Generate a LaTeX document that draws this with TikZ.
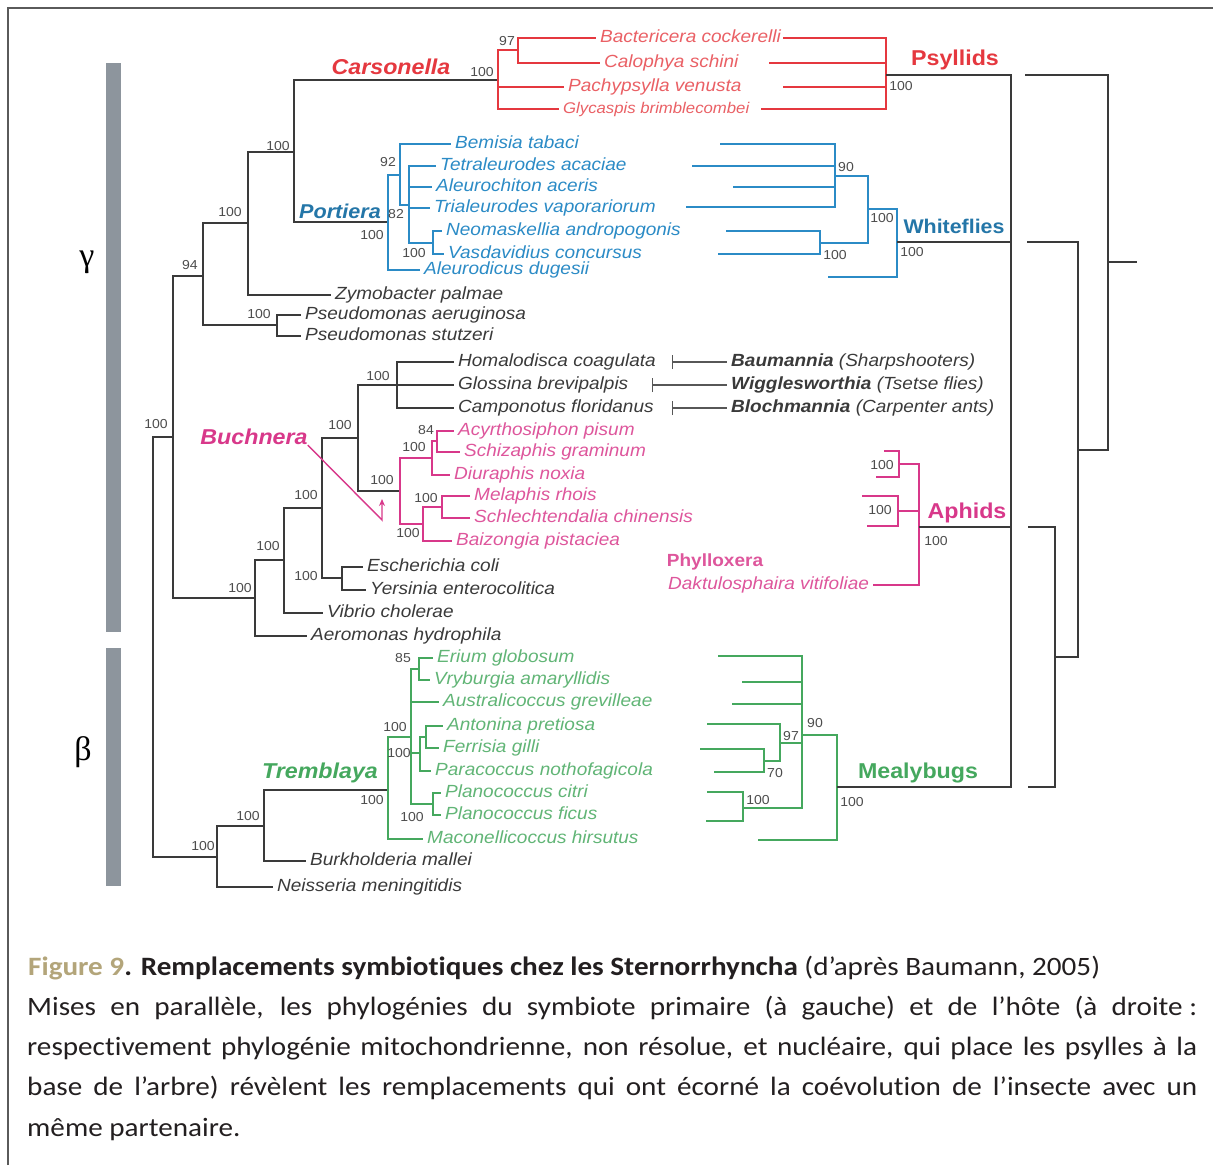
\documentclass[tikz,border=0pt]{standalone}
\usepackage{fontspec}
\newfontfamily\taxfont{Liberation Sans}[FakeStretch=1.08]
\newfontfamily\capfont{Carlito}[FakeStretch=1.1, Ligatures=NoCommon]
\newfontfamily\greekfont{Liberation Serif}
\usepackage{xcolor}
\usepackage{tikz}
\usetikzlibrary{arrows.meta, positioning}
\definecolor{TreeInk}{HTML}{3A3A3A}
\definecolor{BootInk}{HTML}{4D4D4D}
\definecolor{PsyRed}{HTML}{E5383F}
\definecolor{FlyBlue}{HTML}{2B8BC6}
\definecolor{AphPink}{HTML}{D8388A}
\definecolor{MeaGreen}{HTML}{45A85E}
\definecolor{BarGray}{HTML}{8D959D}
\definecolor{FigTan}{HTML}{B3A57A}
\definecolor{CapInk}{HTML}{231F20}
\definecolor{FrameGray}{HTML}{5A5A5A}

\begin{document}
\begin{tikzpicture}[x=1pt, y=-1pt,
  branch/.style={line width=1.8pt, draw=TreeInk},
  psybr/.style={branch, draw=PsyRed},
  flybr/.style={branch, draw=FlyBlue},
  aphbr/.style={branch, draw=AphPink},
  meabr/.style={branch, draw=MeaGreen},
  taxon/.style={anchor=west, inner xsep=4pt, inner ysep=0pt, text height=9pt, text depth=0pt, font=\taxfont\itshape\fontsize{17.6}{20}\selectfont},
  boot/.style={inner sep=0pt, font=\taxfont\fontsize{13}{14}\selectfont, text=BootInk},
  clade/.style={inner sep=0pt, font=\taxfont\bfseries\itshape\fontsize{21.5}{24}\selectfont},
  hostlbl/.style={inner sep=0pt, font=\taxfont\bfseries\fontsize{21.5}{24}\selectfont},
  capline/.style={anchor=base west, inner sep=0pt, font=\capfont\fontsize{26.5}{30}\selectfont, text=CapInk}
]
\fill[white] (0,0) rectangle (1213,1165);
\useasboundingbox (0,0) rectangle (1213,1165);

% Frame
\draw[FrameGray, line width=1.5pt] (8,1165) -- (8,8) -- (1213,8);

% Proteobacteria bars
\fill[BarGray] (106,63) rectangle (121,632);
\fill[BarGray] (106,648) rectangle (121,886);
\node (gam) at (87,262) {\greekfont\fontsize{34}{34}\selectfont γ};
\node (bet) at (83,752) {\greekfont\fontsize{34}{34}\selectfont β};

% Symbiont tree: inner nodes
\foreach \n/\x/\y in {
  r0/153/647, g1/173/437, g2/203/276, g3/248/223, g4/294/152,
  cars/498/80, c97/518/50, port/388/222, w92/400/175, w82/409/205, wNV/433/243,
  psN/277/325, ent1/255/598, ent2/284/560, ent3/322/508, ecy/342/578,
  ent4/358/438, ent5/397/385, buch/400/491, a1/432/458, a84/437/441,
  a2/423/524, mel/442/507, b1/217/857, b2/264/826, trem/388/790,
  m1/411/737, m85/419/669, m3/420/753, m4/426/737, mPl/433/804} {
  \coordinate (\n) at (\x,\y);
}

% Host trees: inner nodes and tips
\foreach \n/\x/\y in {
  hPsy/886/75, hBac/783/38, hCal/769/63, hPac/783/87, hGly/761/109,
  hW90/835/176, hBem/720/144, hTet/692/166, hAch/733/187, hTri/686/207,
  hWNV/820/243, hNeo/726/231, hVas/718/254, hW2/868/209, hAle/828/277, hW3/897/242,
  hA1/899/464, hA1a/884/451, hA1b/876/477, hA2/898/511, hA2a/862/496, hA2b/867/526, hAph/919/527,
  hM1/802/735, hEri/718/656, hVry/742/682, hAus/732/704, hM2/780/743, hAnt/707/724,
  hM3/764/761, hFer/700/749, hPar/714/772, hM4/743/808, hPlc/707/792, hPlf/706/821,
  hM0/837/787, hMac/758/840,
  mPsy/1011/75, mWhi/1011/242, mAph/1011/527, mMea/1011/787,
  nPsy/1025/75, nWhi/1027/242, nAph/1028/527, nMea/1028/787,
  nA/1055/657, nB/1078/450, nC/1108/262, nRoot/1137/262} {
  \coordinate (\n) at (\x,\y);
}

% Leaves
\foreach \n/\x/\y/\t in {
  zymo/331/295/Zymobacter palmae, psaer/301/315/Pseudomonas aeruginosa,
  psstu/301/336/Pseudomonas stutzeri, homa/454/362/Homalodisca coagulata,
  gloss/454/385/Glossina brevipalpis, campo/454/408/Camponotus floridanus,
  ecoli/363/567/Escherichia coli, yers/366/590/Yersinia enterocolitica,
  vibrio/323/613/Vibrio cholerae, aerom/307/636/Aeromonas hydrophila,
  burk/306/861/Burkholderia mallei, neiss/273/887/Neisseria meningitidis} {
  \node[taxon, text=TreeInk] (\n) at (\x,\y) {\t};
}
\foreach \n/\x/\y/\t in {
  bact/596/38/Bactericera cockerelli, calo/600/63/Calophya schini,
  pachy/564/87/Pachypsylla venusta} {
  \node[taxon, text=PsyRed!80] (\n) at (\x,\y) {\t};
}
\node[taxon, text=PsyRed!80, font=\taxfont\itshape\fontsize{15.5}{18}\selectfont] (glyc) at (559,109) {Glycaspis brimblecombei};
\foreach \n/\x/\y/\t in {
  bemisia/451/144/Bemisia tabaci, tetra/436/166/Tetraleurodes acaciae,
  aleuroch/432/187/Aleurochiton aceris, trial/430/208/Trialeurodes vaporariorum,
  neo/442/231/Neomaskellia andropogonis, vas/444/254/Vasdavidius concursus,
  aleurod/420/270/Aleurodicus dugesii} {
  \node[taxon, text=FlyBlue] (\n) at (\x,\y) {\t};
}
\foreach \n/\x/\y/\t in {
  acyr/454/431/Acyrthosiphon pisum, schiz/460/452/Schizaphis graminum,
  diur/450/475/Diuraphis noxia, melaph/470/496/Melaphis rhois,
  schl/470/518/Schlechtendalia chinensis, baiz/452/541/Baizongia pistaciea,
  dakt/664/585/Daktulosphaira vitifoliae} {
  \node[taxon, text=AphPink!85] (\n) at (\x,\y) {\t};
}
\foreach \n/\x/\y/\t in {
  erium/433/658/Erium globosum, vryb/430/680/Vryburgia amaryllidis,
  austr/439/702/Australicoccus grevilleae, anton/443/726/Antonina pretiosa,
  ferr/439/748/Ferrisia gilli, parac/431/771/Paracoccus nothofagicola,
  plc/441/793/Planococcus citri, plf/441/815/Planococcus ficus,
  macon/423/839/Maconellicoccus hirsutus} {
  \node[taxon, text=MeaGreen!85] (\n) at (\x,\y) {\t};
}

% Symbiont branches
\foreach \a/\b in {
  r0/g1, r0/b1, g1/g2, g1/ent1, g2/g3, g2/psN, g3/g4, g3/zymo.west,
  g4/cars, g4/port, psN/psaer.west, psN/psstu.west,
  ent1/ent2, ent1/aerom.west, ent2/ent3, ent2/vibrio.west, ent3/ent4, ent3/ecy,
  ecy/ecoli.west, ecy/yers.west, ent4/ent5, ent4/buch,
  ent5/homa.west, ent5/gloss.west, ent5/campo.west,
  b1/b2, b1/neiss.west, b2/trem, b2/burk.west} {
  \draw[branch] (\a) |- (\b);
}
\foreach \a/\b in {
  cars/c97, cars/pachy.west, cars/glyc.west, c97/bact.west, c97/calo.west,
  hPsy/hBac, hPsy/hCal, hPsy/hPac, hPsy/hGly} {
  \draw[psybr] (\a) |- (\b);
}
\foreach \a/\b in {
  port/w92, port/aleurod.west, w92/bemisia.west, w92/w82,
  w82/tetra.west, w82/aleuroch.west, w82/trial.west, w82/wNV,
  wNV/neo.west, wNV/vas.west,
  hW90/hBem, hW90/hTet, hW90/hAch, hW90/hTri, hWNV/hNeo, hWNV/hVas,
  hW2/hW90, hW2/hWNV, hW3/hW2, hW3/hAle} {
  \draw[flybr] (\a) |- (\b);
}
\foreach \a/\b in {
  buch/a1, buch/a2, a1/a84, a1/diur.west, a84/acyr.west, a84/schiz.west,
  a2/mel, a2/baiz.west, mel/melaph.west, mel/schl.west,
  hA1/hA1a, hA1/hA1b, hA2/hA2a, hA2/hA2b, hAph/hA1, hAph/hA2, hAph/dakt.east} {
  \draw[aphbr] (\a) |- (\b);
}
\foreach \a/\b in {
  trem/m1, trem/macon.west, m1/m85, m1/austr.west, m1/m3, m1/mPl,
  m85/erium.west, m85/vryb.west, m3/m4, m3/parac.west,
  m4/anton.west, m4/ferr.west, mPl/plc.west, mPl/plf.west,
  hM0/hM1, hM0/hMac, hM1/hEri, hM1/hVry, hM1/hAus, hM1/hM2, hM1/hM4,
  hM2/hAnt, hM2/hM3, hM3/hFer, hM3/hPar, hM4/hPlc, hM4/hPlf} {
  \draw[meabr] (\a) |- (\b);
}

% Host phylogenies (mitochondrial comb, nuclear tree)
\draw[branch, line cap=rect] (mPsy) -- (mMea);
\foreach \h/\m in {hPsy/mPsy, hW3/mWhi, hAph/mAph, hM0/mMea} {
  \draw[branch] (\h) -- (\m);
}
\foreach \a/\b in {nA/nAph, nA/nMea, nB/nWhi, nB/nA, nC/nPsy, nC/nB} {
  \draw[branch] (\a) |- (\b);
}
\draw[branch] (nC) -- (nRoot);

% Bootstrap values
\foreach \x/\y/\t [count=\i] in {
  507/41/97, 482/72/100, 278/146/100, 230/212/100, 190/265/94, 259/314/100,
  388/162/92, 396/214/82, 372/235/100, 414/253/100, 156/424/100, 378/376/100,
  340/425/100, 426/430/84, 414/447/100, 382/480/100, 306/495/100, 426/498/100,
  408/533/100, 268/546/100, 306/576/100, 240/588/100, 403/658/85, 395/727/100,
  399/753/100, 372/800/100, 412/817/100, 248/816/100, 203/846/100,
  901/86/100, 846/167/90, 882/218/100, 835/255/100, 912/252/100, 882/465/100,
  880/510/100, 936/541/100, 791/736/97, 815/723/90, 775/773/70, 758/800/100,
  852/802/100} {
  \node[boot] (bs\i) at (\x,\y) {\t};
}

% Symbiont and host group names
\node[clade, text=PsyRed] (carsLbl) at (391,67) {Carsonella};
\node[clade, text=FlyBlue!85!black, font=\taxfont\bfseries\itshape\fontsize{20}{22}\selectfont] (portLbl) at (340,211) {Portiera};
\node[clade, text=AphPink] (buchLbl) at (254,437) {Buchnera};
\node[clade, text=MeaGreen] (tremLbl) at (320,773) {Tremblaya};
\node[hostlbl, text=PsyRed] (psyLbl) at (955,60) {Psyllids};
\node[hostlbl, text=FlyBlue!85!black, font=\taxfont\bfseries\fontsize{19.8}{22}\selectfont] (flyLbl) at (954,226) {Whiteflies};
\node[hostlbl, text=AphPink] (aphLbl) at (967,513) {Aphids};
\node[hostlbl, text=MeaGreen] (meaLbl) at (918,773) {Mealybugs};
\node[hostlbl, text=AphPink!85, font=\taxfont\bfseries\fontsize{17.6}{20}\selectfont] (phylLbl) at (715,562) {Phylloxera};

% Buchnera pointer
\coordinate (bArrBend) at (382,520);
\coordinate (bArrHead) at (382,499);
\draw[AphPink, line width=1.4pt, -{Stealth[length=7pt, width=6pt]}] (buchLbl.south east) -- (bArrBend) -- (bArrHead);

% Other endosymbionts
\node[taxon, text=TreeInk] (baum) at (727,362) {\bfseries Baumannia \mdseries(Sharpshooters)};
\node[taxon, text=TreeInk] (wigg) at (727,385) {\bfseries Wigglesworthia \mdseries(Tsetse flies)};
\node[taxon, text=TreeInk] (bloch) at (727,408) {\bfseries Blochmannia \mdseries(Carpenter ants)};
\coordinate (tkBaum) at (672,362);
\coordinate (tkWigg) at (652,385);
\coordinate (tkBloch) at (672,408);
\foreach \a/\b in {tkBaum/baum, tkWigg/wigg, tkBloch/bloch} {
  \draw[TreeInk!85, line width=1.2pt, {Bar[width=14pt]}-] (\a) -- (\b.west);
}

% Caption
\node[capline] (cap1) at (28,975) {\textbf{{\color{FigTan}Figure 9}. Remplacements symbiotiques chez les Sternorrhyncha} (d’après Baumann, 2005)};
\node[capline] (cap2) at (27,1015) {\makebox[1170pt][s]{Mises en parallèle, les phylogénies du symbiote primaire (à gauche) et de l’hôte (à droite\kern0.25em:}};
\node[capline] (cap3) at (27,1055) {\makebox[1170pt][s]{respectivement phylogénie mitochondrienne, non résolue, et nucléaire, qui place les psylles à la}};
\node[capline] (cap4) at (27,1095) {\makebox[1170pt][s]{base de l’arbre) révèlent les remplacements qui ont écorné la coévolution de l’insecte avec un}};
\node[capline] (cap5) at (27,1136) {même partenaire.};
\end{tikzpicture}
\end{document}
